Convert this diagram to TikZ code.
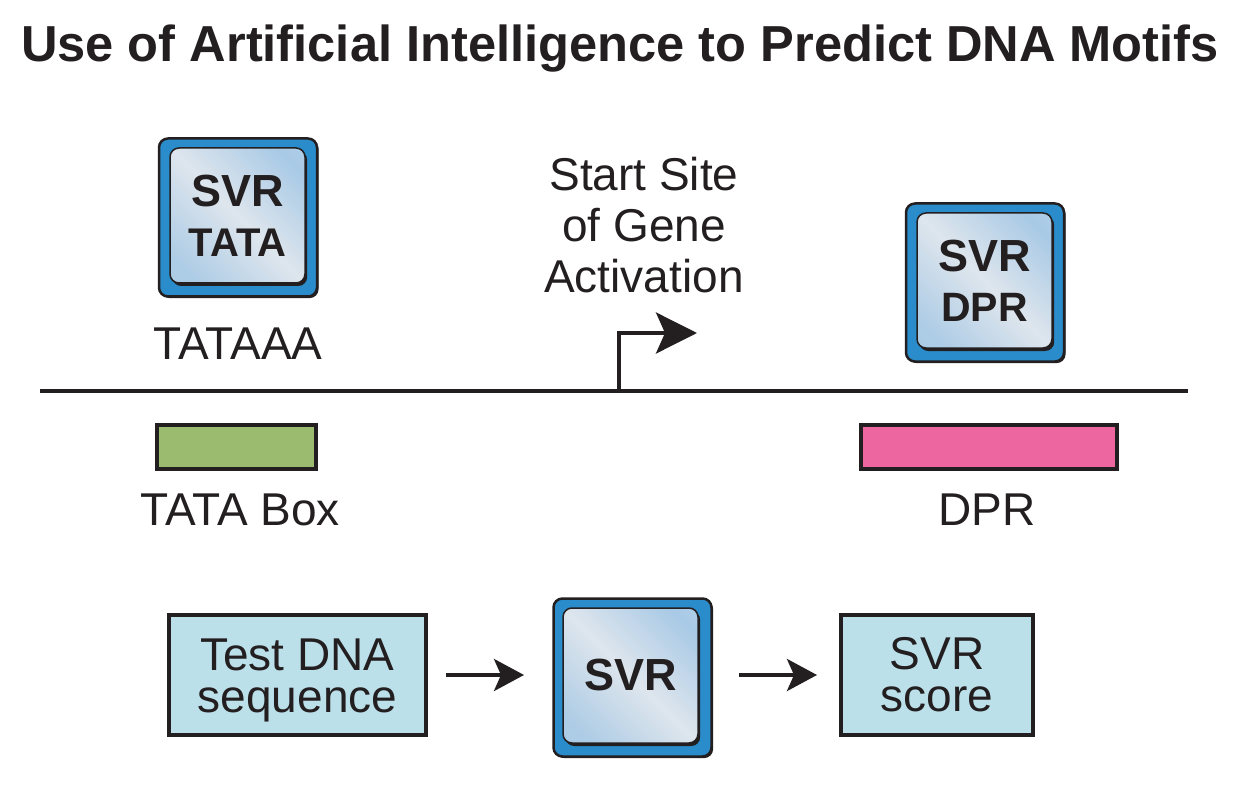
\documentclass[tikz,border=0pt]{standalone}
\usepackage{fontspec}
\setmainfont{Liberation Sans}
\usetikzlibrary{arrows.meta,shadows,calc}
\definecolor{ink}{HTML}{231F20}
\definecolor{chipblue}{HTML}{2B8CCB}
\definecolor{leafgreen}{HTML}{9BBB6E}
\definecolor{rosepink}{HTML}{EE66A0}
\definecolor{paleblue}{HTML}{BCE0EA}
\pgfdeclarehorizontalshading{chipsheen}{100bp}{
  rgb(0bp)=(0.66,0.79,0.90);
  rgb(22bp)=(0.68,0.80,0.90);
  rgb(50bp)=(0.87,0.90,0.93);
  rgb(78bp)=(0.66,0.79,0.90);
  rgb(100bp)=(0.74,0.83,0.91)}
\newcommand{\labelsize}{\fontsize{46}{51}\selectfont}
\newcommand{\boxsize}{\fontsize{46}{42}\selectfont}
\newcommand{\chipbig}{\fontsize{45}{50}\selectfont\bfseries}
\newcommand{\chipsmall}{\fontsize{40}{50}\selectfont\bfseries}
\tikzset{
  every node/.style={text=ink,inner sep=0pt,outer sep=0pt},
  chipshell/.style={draw=ink,line width=2.5pt,fill=chipblue,rounded corners=9pt,
    minimum width=158pt,minimum height=158pt,
    general shadow={fill=ink,rounded corners=9pt,shadow xshift=1.6pt,shadow yshift=-1.6pt}},
  chipface/.style={draw=ink,line width=1.5pt,rounded corners=9pt,
    minimum width=135pt,minimum height=135pt,align=center,font=\chipbig,
    shading=chipsheen,shading angle=45,
    general shadow={fill=ink,rounded corners=9pt,shadow xshift=2.2pt,shadow yshift=-3pt}},
  bar/.style={draw=ink,line width=4pt,minimum height=44pt},
  infobox/.style={draw=ink,line width=4pt,fill=paleblue,minimum height=120pt,align=center,font=\boxsize},
  caption/.style={font=\labelsize,align=center},
  strand/.style={draw=ink,line width=4pt},
  flow/.style={draw=ink,line width=4pt,yshift=1pt,-{Stealth[length=30pt,width=32pt,inset=7pt]}},
  startflow/.style={draw=ink,line width=4pt,line join=miter,-{Stealth[length=41pt,width=41pt,inset=9pt]}},
}
\begin{document}
\begin{tikzpicture}[x=1pt,y=-1pt]
\useasboundingbox (0,0) rectangle (1250,786);

% heading
\node[anchor=base,font=\fontsize{50.6}{54}\selectfont\bfseries] (title) at (620,62)
  {Use of Artificial Intelligence to Predict DNA Motifs};

% support vector regression chips above the strand
\node[chipshell] (tatashell) at (238,217.5) {};
\node[chipface] (tatachip) at (237.5,215.5) {SVR\\{\chipsmall TATA}};
\node[chipshell] (dprshell) at (985,282.5) {};
\node[chipface] (dprchip) at (984.5,280.5) {SVR\\{\fontsize{41}{50}\selectfont DPR}};

% strand and start site
\coordinate (strandL) at (40,391);
\coordinate (strandR) at (1188,391);
\draw[strand] (strandL) -- (strandR);
\coordinate (siteFoot) at (619,391);
\coordinate (siteTip) at (697,333);
\draw[startflow] (siteFoot) |- (siteTip);
\node[caption] (sitetext) at (644,225) {Start Site\\of Gene\\Activation};
\node[caption,anchor=base] (tataaa) at (238,359) {TATAAA};

% motif bars
\node[bar,fill=leafgreen,minimum width=159pt] (tatabar) at (236.5,447) {};
\node[bar,fill=rosepink,minimum width=256pt] (dprbar) at (989,447) {};
\node[caption,anchor=base] (tatalabel) at (240,525) {TATA Box};
\node[caption,anchor=base] (dprlabel) at (987,525) {DPR};

% scoring pipeline
\node[infobox,minimum width=257pt] (testbox) at (297.5,675) {\rule{0pt}{43pt}Test DNA\\sequence};
\node[chipshell] (svrshell) at (632.5,677.5) {};
\node[chipface] (svrchip) at (630.5,675.5) {SVR};
\node[infobox,minimum width=192pt] (scorebox) at (937,675) {SVR\\score};
\draw[flow,shorten <=20pt,shorten >=29.5pt] (testbox.east) -- (testbox.east -| svrshell.west);
\draw[flow,shorten <=27.5pt,shorten >=24pt] (svrshell.east |- scorebox.west) -- (scorebox.west);
\end{tikzpicture}
\end{document}
